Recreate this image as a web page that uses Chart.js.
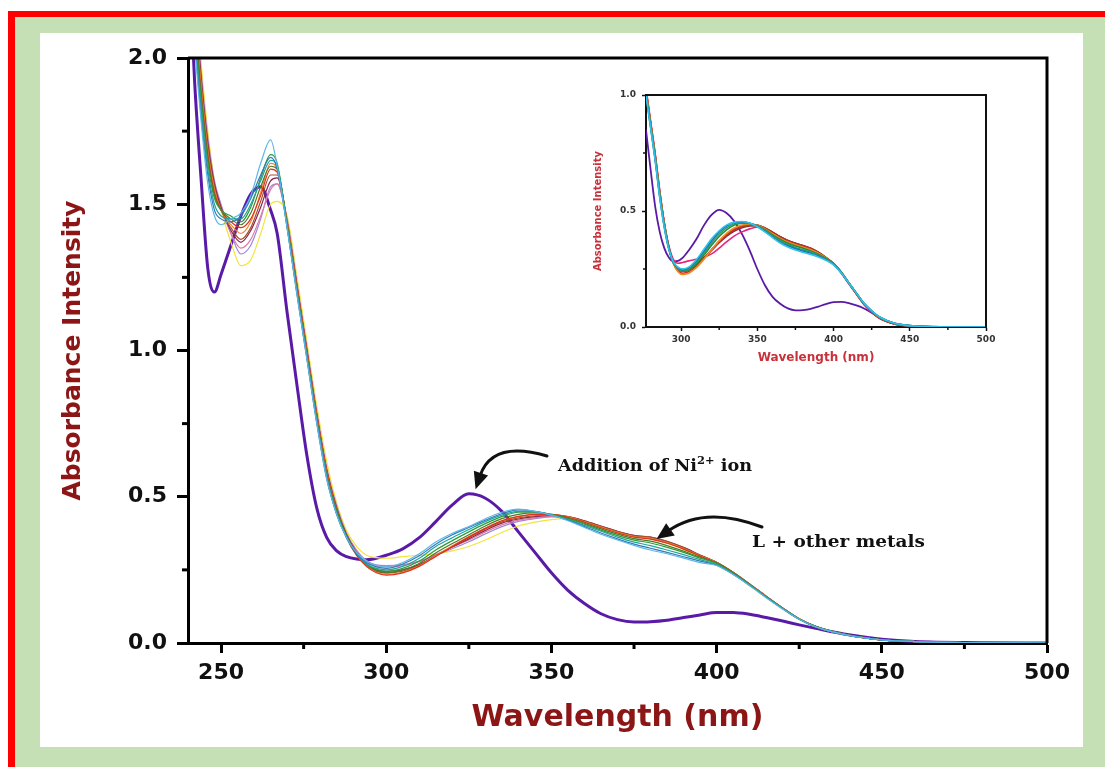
<!DOCTYPE html>
<html>
<head>
<meta charset="utf-8">
<script src="https://cdn.jsdelivr.net/npm/chart.js@4.4.1/dist/chart.umd.min.js"></script>
<style>
  html, body { margin: 0; padding: 0; background: #ffffff; width: 1105px; height: 767px; overflow: hidden; }
  #frame { position: absolute; left: 8px; top: 11px; width: 1105px; height: 767px; background: #C5E0B4; border-left: 7px solid #FF0000; border-top: 6px solid #FF0000; }
  #panel { position: absolute; left: 40px; top: 33px; width: 1043px; height: 714px; background: #ffffff; }
  #main { position: absolute; left: 0; top: 0; }
  #inset { position: absolute; left: 585px; top: 80px; }
</style>
</head>
<body>
<div id="frame"></div>
<div id="panel"></div>
<canvas id="main" width="1105" height="767"></canvas>
<canvas id="inset" width="420" height="290"></canvas>
<script>
// ---------------- DATA (main chart) ----------------
const wavelengths = [240,242,244,246,248,250,253,256,259,262,265,267,
  270,273,276,279,282,285,288,291,294,297,300,
  305,310,315,320,325,330,335,340,345,350,355,360,365,370,375,380,385,390,395,400,405,410,415,420,425,430,
  440,450,460,480,500];

const metal1 = [2.40,2.05,1.78,1.57,1.46,1.43,1.45,1.47,1.53,1.64,1.72,1.63,
  1.42,1.19,0.97,0.75,0.56,0.44,0.36,0.31,0.28,0.265,0.26,
  0.275,0.305,0.345,0.375,0.398,0.425,0.447,0.458,0.45,0.437,0.418,0.395,0.372,0.352,0.334,0.318,0.305,0.29,0.275,0.265,0.234,0.196,0.155,0.116,0.081,0.055,
  0.026,0.011,0.005,0.001,0];
const metal2 = [2.45,2.08,1.80,1.60,1.48,1.45,1.44,1.46,1.52,1.60,1.66,1.62,
  1.42,1.19,0.97,0.75,0.56,0.44,0.36,0.305,0.275,0.26,0.255,
  0.27,0.298,0.338,0.37,0.395,0.42,0.442,0.455,0.45,0.437,0.42,0.398,0.376,0.356,0.338,0.324,0.31,0.295,0.28,0.266,0.235,0.197,0.156,0.117,0.081,0.055,
  0.026,0.011,0.005,0.001,0];
const metal3 = [2.5,2.1,1.83,1.62,1.50,1.46,1.45,1.45,1.50,1.58,1.65,1.63,
  1.42,1.20,0.98,0.76,0.57,0.44,0.36,0.305,0.27,0.255,0.25,
  0.262,0.29,0.33,0.36,0.388,0.415,0.437,0.45,0.449,0.438,0.422,0.402,0.382,0.362,0.345,0.333,0.318,0.302,0.285,0.268,0.236,0.198,0.157,0.118,0.082,0.056,
  0.026,0.011,0.005,0.001,0];
const metal4 = [2.5,2.12,1.85,1.64,1.52,1.48,1.46,1.44,1.49,1.59,1.67,1.64,
  1.43,1.20,0.98,0.76,0.57,0.45,0.365,0.305,0.27,0.252,0.245,
  0.255,0.28,0.318,0.35,0.38,0.408,0.432,0.447,0.448,0.439,0.425,0.406,0.386,0.367,0.352,0.342,0.327,0.31,0.29,0.272,0.239,0.2,0.158,0.119,0.083,0.057,
  0.027,0.011,0.005,0.001,0];
const metal5 = [2.55,2.15,1.87,1.66,1.53,1.48,1.45,1.43,1.47,1.56,1.63,1.62,
  1.43,1.20,0.98,0.76,0.57,0.45,0.365,0.305,0.268,0.248,0.24,
  0.25,0.272,0.308,0.34,0.37,0.4,0.425,0.44,0.445,0.44,0.427,0.409,0.39,0.372,0.357,0.348,0.333,0.314,0.293,0.274,0.24,0.2,0.158,0.118,0.082,0.056,
  0.026,0.011,0.005,0.001,0];
const metal6 = [2.55,2.16,1.88,1.67,1.54,1.48,1.44,1.42,1.45,1.53,1.62,1.61,
  1.43,1.21,0.99,0.77,0.58,0.45,0.36,0.30,0.262,0.24,0.232,
  0.24,0.262,0.296,0.33,0.362,0.392,0.418,0.433,0.44,0.44,0.43,0.413,0.394,0.376,0.362,0.355,0.341,0.321,0.297,0.274,0.24,0.2,0.158,0.118,0.082,0.056,
  0.026,0.011,0.005,0.001,0];
const metal7 = [2.6,2.18,1.9,1.68,1.55,1.48,1.43,1.40,1.44,1.54,1.64,1.62,
  1.44,1.21,0.99,0.77,0.58,0.45,0.36,0.30,0.263,0.242,0.235,
  0.242,0.264,0.298,0.332,0.364,0.393,0.418,0.432,0.439,0.439,0.431,0.414,0.396,0.378,0.364,0.358,0.343,0.323,0.298,0.275,0.241,0.201,0.159,0.119,0.082,0.056,
  0.026,0.011,0.005,0.001,0];
const metal8 = [2.6,2.2,1.92,1.7,1.56,1.48,1.42,1.38,1.42,1.51,1.60,1.60,
  1.44,1.22,1.0,0.78,0.59,0.46,0.365,0.305,0.266,0.245,0.24,
  0.246,0.266,0.298,0.33,0.36,0.39,0.414,0.428,0.435,0.437,0.432,0.417,0.399,0.381,0.367,0.362,0.347,0.326,0.3,0.276,0.242,0.202,0.16,0.12,0.083,0.057,
  0.027,0.011,0.005,0.001,0];
const metal9 = [2.65,2.22,1.93,1.71,1.57,1.49,1.41,1.37,1.41,1.49,1.58,1.59,
  1.44,1.22,1.0,0.78,0.59,0.46,0.37,0.31,0.27,0.25,0.245,
  0.25,0.268,0.298,0.328,0.356,0.385,0.41,0.424,0.432,0.436,0.432,0.418,0.4,0.382,0.368,0.362,0.348,0.327,0.301,0.276,0.242,0.202,0.16,0.12,0.083,0.057,
  0.027,0.011,0.005,0.001,0];
const metal10 = [2.65,2.22,1.93,1.71,1.57,1.49,1.40,1.35,1.38,1.46,1.55,1.57,
  1.44,1.22,1.0,0.78,0.59,0.46,0.37,0.315,0.278,0.262,0.26,
  0.264,0.278,0.302,0.328,0.352,0.38,0.404,0.42,0.428,0.433,0.43,0.416,0.398,0.38,0.366,0.358,0.344,0.324,0.299,0.275,0.241,0.201,0.159,0.119,0.082,0.056,
  0.026,0.011,0.005,0.001,0];
const metal11 = [2.7,2.25,1.95,1.73,1.58,1.5,1.40,1.33,1.36,1.45,1.56,1.57,
  1.45,1.23,1.01,0.79,0.6,0.47,0.375,0.318,0.282,0.267,0.265,
  0.268,0.28,0.3,0.322,0.346,0.373,0.398,0.416,0.425,0.431,0.43,0.416,0.398,0.38,0.366,0.357,0.343,0.323,0.298,0.274,0.24,0.2,0.158,0.118,0.082,0.056,
  0.026,0.011,0.005,0.001,0];
const metal12 = [2.7,2.28,1.98,1.75,1.58,1.48,1.37,1.29,1.31,1.40,1.50,1.51,
  1.46,1.25,1.03,0.81,0.62,0.48,0.385,0.33,0.3,0.292,0.29,
  0.295,0.3,0.305,0.315,0.33,0.352,0.378,0.4,0.413,0.422,0.425,0.414,0.397,0.38,0.366,0.356,0.341,0.32,0.293,0.268,0.235,0.196,0.155,0.116,0.08,0.055,
  0.026,0.011,0.005,0.001,0];
const nickel = [2.4,1.92,1.58,1.28,1.20,1.26,1.36,1.46,1.535,1.56,1.48,1.40,
  1.13,0.88,0.64,0.46,0.36,0.315,0.295,0.287,0.285,0.29,0.30,
  0.322,0.36,0.415,0.472,0.51,0.495,0.45,0.38,0.31,0.24,0.18,0.135,0.1,0.08,0.072,0.073,0.078,0.087,0.096,0.104,0.104,0.098,0.087,0.075,0.062,0.05,
  0.028,0.013,0.005,0.001,0];

const mainXTicks = [250, 300, 350, 400, 450, 500];
const mainXMinor = [275, 325, 375, 425, 475];
const mainYMinor = [0.25, 0.75, 1.25, 1.75];

// ---------------- DATA (inset chart) ----------------
const insetWavelengths = [277,280,283,286,289,292,295,298,301,305,310,315,320,325,330,335,340,345,350,355,
  360,365,370,375,380,385,390,395,400,405,410,415,420,425,430,440,450,460,480,500];
const inset1 = [1.0,0.86,0.72,0.56,0.43,0.335,0.28,0.258,0.25,0.258,0.29,0.335,0.38,0.415,0.44,0.452,0.455,0.448,0.432,0.41,
  0.385,0.362,0.345,0.332,0.322,0.313,0.302,0.288,0.268,0.234,0.19,0.146,0.102,0.07,0.044,0.016,0.006,0.002,0,0];
const inset2 = [1.0,0.86,0.72,0.56,0.43,0.335,0.278,0.255,0.247,0.255,0.285,0.328,0.372,0.41,0.436,0.45,0.453,0.447,0.433,0.412,
  0.388,0.366,0.35,0.337,0.327,0.318,0.306,0.29,0.27,0.235,0.19,0.146,0.102,0.07,0.044,0.016,0.006,0.002,0,0];
const inset3 = [1.01,0.87,0.73,0.57,0.44,0.338,0.278,0.252,0.243,0.25,0.278,0.318,0.362,0.4,0.428,0.445,0.45,0.447,0.435,0.416,
  0.393,0.372,0.356,0.343,0.333,0.323,0.31,0.293,0.272,0.236,0.191,0.146,0.101,0.069,0.043,0.015,0.005,0.002,0,0];
const inset4 = [1.01,0.87,0.73,0.57,0.44,0.338,0.277,0.25,0.24,0.246,0.272,0.31,0.352,0.39,0.42,0.44,0.447,0.446,0.436,0.419,
  0.397,0.377,0.361,0.349,0.339,0.328,0.314,0.296,0.273,0.237,0.191,0.146,0.101,0.069,0.043,0.015,0.005,0.002,0,0];
const inset5 = [1.02,0.88,0.74,0.58,0.445,0.34,0.272,0.238,0.226,0.232,0.256,0.292,0.333,0.372,0.405,0.428,0.44,0.443,0.438,0.423,
  0.402,0.382,0.366,0.354,0.344,0.333,0.318,0.298,0.274,0.237,0.19,0.145,0.1,0.068,0.042,0.015,0.005,0.002,0,0];
const inset6 = [1.02,0.88,0.74,0.58,0.445,0.34,0.274,0.242,0.232,0.238,0.26,0.294,0.333,0.37,0.4,0.423,0.436,0.441,0.439,0.425,
  0.405,0.385,0.369,0.357,0.347,0.336,0.32,0.299,0.274,0.237,0.19,0.145,0.1,0.067,0.041,0.014,0.005,0.002,0,0];
const inset7 = [1.02,0.88,0.74,0.58,0.447,0.342,0.277,0.248,0.24,0.245,0.265,0.297,0.333,0.368,0.397,0.419,0.432,0.438,0.438,0.427,
  0.408,0.388,0.372,0.36,0.35,0.339,0.322,0.3,0.274,0.236,0.189,0.144,0.099,0.066,0.04,0.014,0.004,0.001,0,0];
const inset8 = [1.02,0.88,0.74,0.58,0.447,0.343,0.28,0.255,0.248,0.252,0.27,0.298,0.33,0.363,0.392,0.414,0.428,0.435,0.437,0.427,
  0.409,0.389,0.373,0.361,0.351,0.339,0.322,0.299,0.273,0.235,0.188,0.143,0.098,0.065,0.039,0.013,0.004,0.001,0,0];
const inset9 = [1.03,0.89,0.75,0.59,0.45,0.35,0.29,0.275,0.278,0.285,0.292,0.3,0.315,0.34,0.368,0.393,0.41,0.423,0.43,0.425,
  0.408,0.389,0.373,0.361,0.35,0.338,0.32,0.297,0.271,0.233,0.186,0.141,0.096,0.063,0.038,0.012,0.004,0.001,0,0];
const insetNickel = [0.85,0.68,0.52,0.41,0.34,0.30,0.283,0.285,0.298,0.33,0.378,0.438,0.483,0.505,0.49,0.455,0.4,0.33,0.25,0.18,
  0.13,0.1,0.08,0.072,0.073,0.078,0.088,0.099,0.107,0.108,0.103,0.093,0.08,0.062,0.041,0.016,0.006,0.002,0,0];

const insetXTicks = [300, 350, 400, 450, 500];
const insetXMinor = [325, 375, 425, 475];
const insetYMinor = [0.25, 0.75];

// ---------------- STYLES ----------------
const metalColors = ['#5DB7E5','#3478BE','#20A59A','#2E9B3A','#4F7A28','#E2321E','#F2852A','#A4522C','#8B2252','#E07AA8','#9C8BD6','#F3E43C'];
const insetColors = ['#2EC4E8','#2567B8','#27A368','#1E8C3A','#F28C1E','#D92B2B','#8E4A1C','#A0204A','#E5267F'];
const nickelColor = '#5A1AA8';
const titleRed = '#8C1616';
const insetRed = '#C8303A';

const pts = (xs, ys) => xs.map((x, i) => ({ x: x, y: ys[i] }));

const metals = [metal1, metal2, metal3, metal4, metal5, metal6, metal7, metal8, metal9, metal10, metal11, metal12];
const insetSeries = [inset1, inset2, inset3, inset4, inset5, inset6, inset7, inset8, inset9];

// ---------------- helper drawing ----------------
function drawArrow(ctx, x0, y0, cx, cy, x1, y1) {
  ctx.save();
  ctx.strokeStyle = '#111';
  ctx.fillStyle = '#111';
  ctx.lineWidth = 3;
  ctx.lineCap = 'round';
  ctx.beginPath();
  ctx.moveTo(x0, y0);
  ctx.quadraticCurveTo(cx, cy, x1, y1);
  ctx.stroke();
  let dx = x1 - cx, dy = y1 - cy;
  const len = Math.hypot(dx, dy);
  dx /= len; dy /= len;
  const tipX = x1 + dx * 14, tipY = y1 + dy * 14;
  const bx = x1 - dx * 3, by = y1 - dy * 3;
  ctx.beginPath();
  ctx.moveTo(tipX, tipY);
  ctx.lineTo(bx - dy * 7.5, by + dx * 7.5);
  ctx.lineTo(bx + dy * 7.5, by - dx * 7.5);
  ctx.closePath();
  ctx.fill();
  ctx.restore();
}

function drawScaledText(ctx, parts, x, baseline, targetWidth) {
  ctx.save();
  let total = 0;
  parts.forEach(p => { ctx.font = p.font; p.w = ctx.measureText(p.text).width; total += p.w; });
  const s = targetWidth / total;
  ctx.translate(x, baseline);
  ctx.scale(s, 1);
  ctx.fillStyle = '#111';
  ctx.textBaseline = 'alphabetic';
  let cx = 0;
  parts.forEach(p => { ctx.font = p.font; ctx.fillText(p.text, cx, p.rise || 0); cx += p.w; });
  ctx.restore();
}

const serifBold = 'bold 17px "DejaVu Serif", "Liberation Serif", serif';
const serifSup = 'bold 11px "DejaVu Serif", "Liberation Serif", serif';

const mainDecor = {
  id: 'mainDecor',
  afterDraw(chart) {
    const { ctx, chartArea: a, scales } = chart;
    const x = scales.x, y = scales.y;
    ctx.save();
    ctx.strokeStyle = '#000';
    ctx.lineWidth = 3;
    ctx.beginPath();
    ctx.moveTo(a.left, a.top);
    ctx.lineTo(a.right, a.top);
    ctx.lineTo(a.right, a.bottom);
    ctx.stroke();
    ctx.lineWidth = 3;
    mainXMinor.forEach(v => {
      const px = x.getPixelForValue(v);
      ctx.beginPath(); ctx.moveTo(px, a.bottom); ctx.lineTo(px, a.bottom + 6); ctx.stroke();
    });
    mainYMinor.forEach(v => {
      const py = y.getPixelForValue(v);
      ctx.beginPath(); ctx.moveTo(a.left, py); ctx.lineTo(a.left - 6, py); ctx.stroke();
    });
    ctx.restore();

    drawArrow(ctx, 547, 456, 492, 440, 480, 476);
    drawArrow(ctx, 762, 527, 705, 505, 668, 531);

    drawScaledText(ctx, [
      { text: 'Addition of Ni', font: serifBold },
      { text: '2+', font: serifSup, rise: -7 },
      { text: ' ion', font: serifBold }
    ], 558, 471, 194);
    drawScaledText(ctx, [
      { text: 'L + other metals', font: serifBold }
    ], 752, 547, 173);
  }
};

const insetDecor = {
  id: 'insetDecor',
  afterDraw(chart) {
    const { ctx, chartArea: a, scales } = chart;
    const x = scales.x, y = scales.y;
    ctx.save();
    ctx.strokeStyle = '#111';
    ctx.lineWidth = 2;
    ctx.beginPath();
    ctx.moveTo(a.left, a.top);
    ctx.lineTo(a.right, a.top);
    ctx.lineTo(a.right, a.bottom);
    ctx.stroke();
    ctx.lineWidth = 1.5;
    insetXMinor.forEach(v => {
      const px = x.getPixelForValue(v);
      ctx.beginPath(); ctx.moveTo(px, a.bottom); ctx.lineTo(px, a.bottom + 3); ctx.stroke();
    });
    insetYMinor.forEach(v => {
      const py = y.getPixelForValue(v);
      ctx.beginPath(); ctx.moveTo(a.left, py); ctx.lineTo(a.left - 3, py); ctx.stroke();
    });
    ctx.restore();
  }
};

// ---------------- MAIN CHART ----------------
const mainDatasets = metals.map((arr, i) => ({
  data: pts(wavelengths, arr),
  borderColor: metalColors[i],
  borderWidth: 1.2,
  pointRadius: 0,
  cubicInterpolationMode: 'monotone',
  fill: false
}));
mainDatasets.push({
  data: pts(wavelengths, nickel),
  borderColor: nickelColor,
  borderWidth: 3,
  pointRadius: 0,
  cubicInterpolationMode: 'monotone',
  fill: false
});

new Chart(document.getElementById('main'), {
  type: 'line',
  data: { datasets: mainDatasets },
  options: {
    responsive: false,
    devicePixelRatio: 1,
    animation: false,
    events: [],
    layout: { padding: { left: 0, top: 58, right: 58, bottom: 0 } },
    plugins: { legend: { display: false }, tooltip: { enabled: false } },
    scales: {
      x: {
        type: 'linear',
        position: 'bottom',
        min: 240,
        max: 500,
        afterBuildTicks: (s) => { s.ticks = mainXTicks.map(v => ({ value: v })); },
        afterFit: (s) => { s.height = 124; },
        ticks: {
          color: '#111',
          padding: 7,
          maxRotation: 0,
          autoSkip: false,
          font: { family: 'DejaVu Sans', size: 22, weight: 'bold' },
          callback: (v) => String(v)
        },
        grid: { display: true, drawOnChartArea: false, drawTicks: true, tickLength: 10, tickWidth: 3, tickColor: '#000', color: '#000' },
        border: { display: true, color: '#000', width: 3 },
        title: {
          display: true,
          text: 'Wavelength (nm)',
          color: titleRed,
          font: { family: 'DejaVu Sans', size: 30, weight: 'bold' },
          padding: { top: 0, bottom: 31 }
        }
      },
      y: {
        type: 'linear',
        position: 'left',
        min: 0,
        max: 2,
        afterFit: (s) => { s.width = 188; },
        ticks: {
          stepSize: 0.5,
          color: '#111',
          padding: 10,
          font: { family: 'DejaVu Sans', size: 22, weight: 'bold' },
          callback: (v) => Number(v).toFixed(1)
        },
        grid: { display: true, drawOnChartArea: false, drawTicks: true, tickLength: 11, tickWidth: 3, tickColor: '#000', color: '#000' },
        border: { display: true, color: '#000', width: 3 },
        title: {
          display: true,
          text: 'Absorbance Intensity',
          color: titleRed,
          font: { family: 'DejaVu Sans', size: 25, weight: 'bold' },
          padding: { top: 58, bottom: 0 }
        }
      }
    }
  },
  plugins: [mainDecor]
});

// ---------------- INSET CHART ----------------
const insetDatasets = insetSeries.map((arr, i) => ({
  data: pts(insetWavelengths, arr),
  borderColor: insetColors[i],
  borderWidth: 1.6,
  pointRadius: 0,
  cubicInterpolationMode: 'monotone',
  fill: false
}));
insetDatasets.push({
  data: pts(insetWavelengths, insetNickel),
  borderColor: nickelColor,
  borderWidth: 1.8,
  pointRadius: 0,
  cubicInterpolationMode: 'monotone',
  fill: false
});

new Chart(document.getElementById('inset'), {
  type: 'line',
  data: { datasets: insetDatasets },
  options: {
    responsive: false,
    devicePixelRatio: 1,
    animation: false,
    events: [],
    layout: { padding: { left: 0, top: 15, right: 19, bottom: 0 } },
    plugins: { legend: { display: false }, tooltip: { enabled: false } },
    scales: {
      x: {
        type: 'linear',
        position: 'bottom',
        min: 277,
        max: 500,
        afterBuildTicks: (s) => { s.ticks = insetXTicks.map(v => ({ value: v })); },
        afterFit: (s) => { s.height = 43; },
        ticks: {
          color: '#333',
          padding: 3,
          maxRotation: 0,
          autoSkip: false,
          font: { family: 'DejaVu Sans', size: 9, weight: 'bold' },
          callback: (v) => String(v)
        },
        grid: { display: true, drawOnChartArea: false, drawTicks: true, tickLength: 4, tickWidth: 1.5, tickColor: '#111', color: '#111' },
        border: { display: true, color: '#111', width: 2 },
        title: {
          display: true,
          text: 'Wavelength (nm)',
          color: insetRed,
          font: { family: 'DejaVu Sans', size: 12, weight: 'bold' },
          padding: { top: 0, bottom: 5 }
        }
      },
      y: {
        type: 'linear',
        position: 'left',
        min: 0,
        max: 1,
        afterFit: (s) => { s.width = 61; },
        ticks: {
          stepSize: 0.5,
          color: '#333',
          padding: 6,
          font: { family: 'DejaVu Sans', size: 9, weight: 'bold' },
          callback: (v) => Number(v).toFixed(1)
        },
        grid: { display: true, drawOnChartArea: false, drawTicks: true, tickLength: 4, tickWidth: 1.5, tickColor: '#111', color: '#111' },
        border: { display: true, color: '#111', width: 2 },
        title: {
          display: true,
          text: 'Absorbance Intensity',
          color: insetRed,
          font: { family: 'DejaVu Sans', size: 10, weight: 'bold' },
          padding: { top: 7, bottom: 0 }
        }
      }
    }
  },
  plugins: [insetDecor]
});
</script>
</body>
</html>
